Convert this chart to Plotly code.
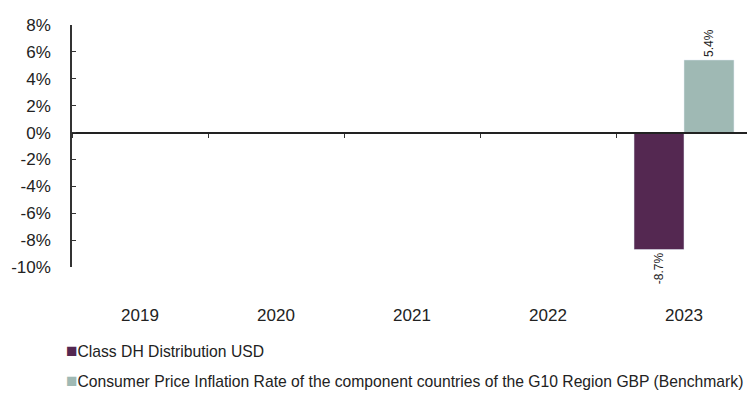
import plotly.graph_objects as go

years = ["2019", "2020", "2021", "2022", "2023"]
fund = [None, None, None, None, -8.7]
bench = [None, None, None, None, 5.4]
fund_name = "Class DH Distribution USD"
bench_name = "Consumer Price Inflation Rate of the component countries of the G10 Region GBP (Benchmark)"
y_ticks = [8, 6, 4, 2, 0, -2, -4, -6, -8, -10]

fund_color = "#542851"
bench_color = "#9fb9b4"

fig = go.Figure()
fig.add_trace(go.Bar(
    x=years, y=fund, name=fund_name, marker_color=fund_color,
    text=[None if v is None else f"{v:.1f}%" for v in fund],
    textposition="outside", textangle=-90, cliponaxis=False,
    textfont=dict(size=12, color="#222"),
))
fig.add_trace(go.Bar(
    x=years, y=bench, name=bench_name, marker_color=bench_color,
    text=[None if v is None else f"{v:.1f}%" for v in bench],
    textposition="outside", textangle=-90, cliponaxis=False,
    textfont=dict(size=12, color="#222"),
))

# excel-style legend: small coloured square right before the text
for i, (name, col) in enumerate([(fund_name, fund_color), (bench_name, bench_color)]):
    fig.add_annotation(
        xref="paper", yref="paper", x=-0.012, xanchor="left",
        y=-0.345 - i * 0.124, yanchor="middle", showarrow=False,
        text=f"<span style='color:{col};font-size:19px'>■</span>{name}",
        font=dict(size=15.7, color="#222"),
    )

# page body has an 8px margin, so the figure is 8px smaller than the window
fig.update_layout(
    width=747, height=385,
    margin=dict(l=64, r=3, t=17, b=126, autoexpand=False),
    plot_bgcolor="white", paper_bgcolor="white",
    font=dict(family="Liberation Sans, Arial", size=17, color="#222"),
    barmode="group", bargap=0.265, bargroupgap=0,
    showlegend=False,
)
fig.update_yaxes(
    range=[-10, 8], tickvals=y_ticks, ticktext=[f"{v}%" for v in y_ticks],
    showgrid=False, zeroline=False, showline=True, linecolor="#333", linewidth=1.5,
    ticks="inside", ticklen=4, tickcolor="#333", ticklabelstandoff=16,
    automargin=False,
)
fig.update_xaxes(
    type="category", anchor="free", position=10 / 18,
    showline=True, linecolor="#222", linewidth=2,
    ticks="outside", tickson="boundaries", ticklen=4, tickcolor="#333",
    showgrid=False, ticklabelstandoff=167, automargin=False,
)
fig.write_html("out.html")
